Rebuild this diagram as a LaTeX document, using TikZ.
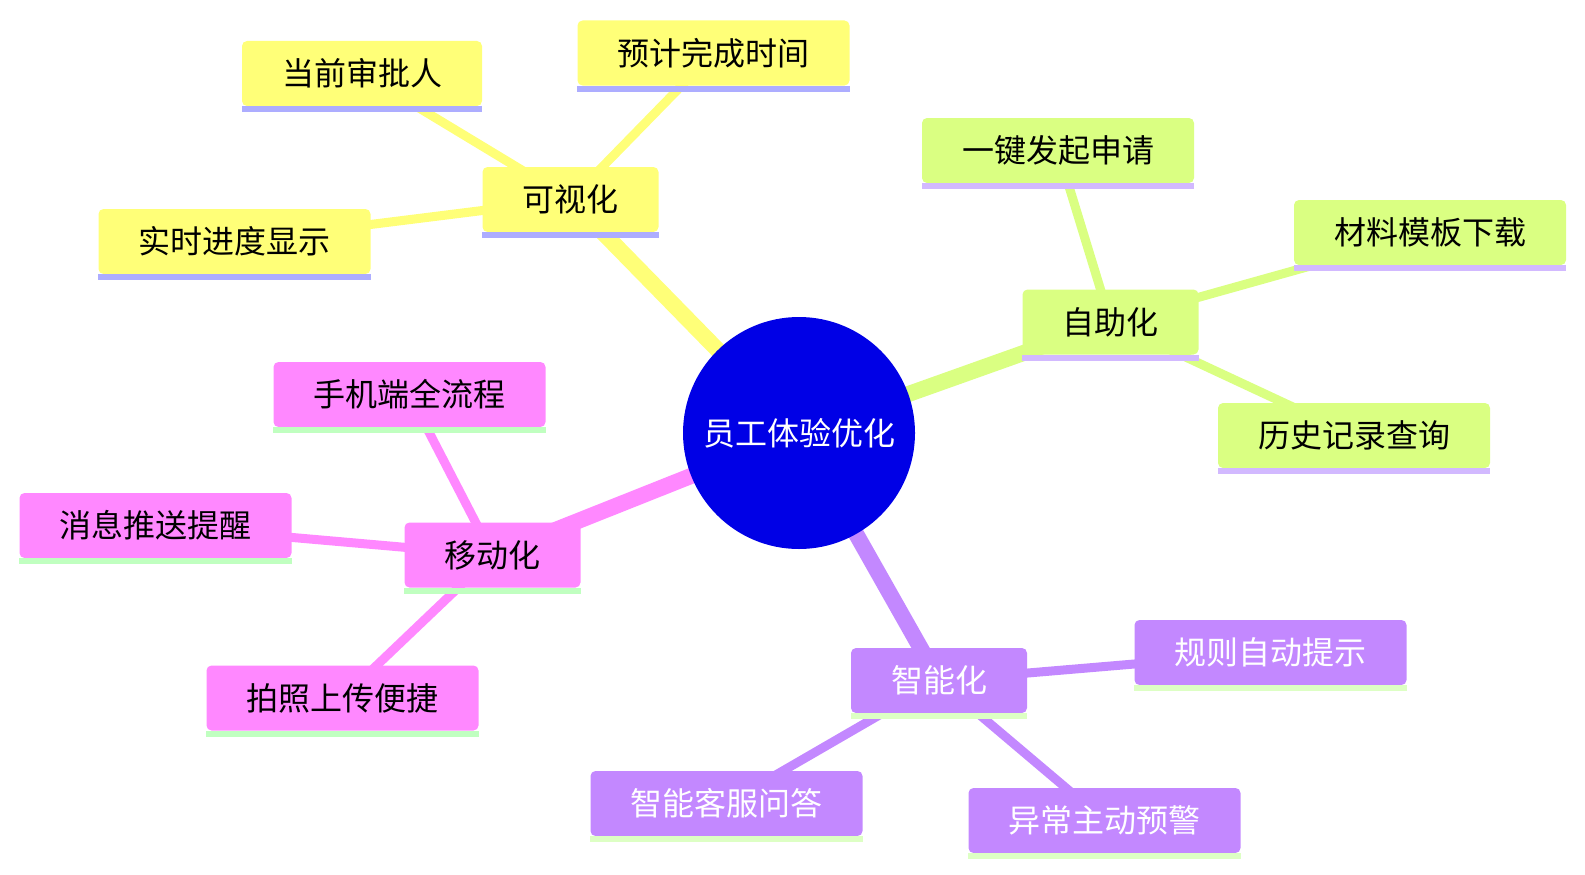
\documentclass[tikz,border=0pt]{standalone}
\usepackage{fontspec}
\usepackage{xcolor}
\usetikzlibrary{backgrounds}
\newfontfamily\cjk{Noto Sans CJK SC}
\definecolor{rootblue}{HTML}{0000E6}
\definecolor{visfill}{HTML}{FFFF78}
\definecolor{visline}{HTML}{ADADFF}
\definecolor{selffill}{HTML}{DAFF82}
\definecolor{selfline}{HTML}{D2B9FF}
\definecolor{mobfill}{HTML}{FF88FF}
\definecolor{mobline}{HTML}{C0FFC0}
\definecolor{aifill}{HTML}{C388FF}
\definecolor{ailine}{HTML}{DDFFC4}

\begin{document}
\begin{tikzpicture}[
x=1pt, y=-1pt,
rootnode/.style={circle, fill=rootblue, minimum size=232pt, inner sep=0pt, text=white, font=\cjk\fontsize{32}{32}\selectfont},
box/.style={rounded corners=5pt, minimum height=65pt, inner xsep=40pt, inner ysep=0pt, font=\cjk\fontsize{32}{32}\selectfont},
trunk/.style={line width=16pt},
twig/.style={line width=9pt}
]
\useasboundingbox (0,0) rectangle (1585,875);
\node[rootnode] (root) at (799,433) {员工体验优化};
% 可视化
\node[box, fill=visfill] (vis) at (570.5,199.5) {可视化};
\node[box, fill=visfill] (visA) at (362,73.5) {当前审批人};
\node[box, fill=visfill] (visB) at (713.5,53) {预计完成时间};
\node[box, fill=visfill] (visC) at (234.5,241.5) {实时进度显示};
% 自助化
\node[box, fill=selffill] (self) at (1110.5,322) {自助化};
\node[box, fill=selffill] (selfA) at (1058,150.5) {一键发起申请};
\node[box, fill=selffill] (selfB) at (1430,232.5) {材料模板下载};
\node[box, fill=selffill] (selfC) at (1354,435.5) {历史记录查询};
% 移动化
\node[box, fill=mobfill] (mob) at (492.5,555) {移动化};
\node[box, fill=mobfill] (mobA) at (409.5,394.5) {手机端全流程};
\node[box, fill=mobfill] (mobB) at (155.5,525.5) {消息推送提醒};
\node[box, fill=mobfill] (mobC) at (342.5,698) {拍照上传便捷};
% 智能化
\node[box, fill=aifill, text=white] (ai) at (939,680.5) {智能化};
\node[box, fill=aifill, text=white] (aiA) at (1270.5,652.5) {规则自动提示};
\node[box, fill=aifill, text=white] (aiB) at (1104.5,820.5) {异常主动预警};
\node[box, fill=aifill, text=white] (aiC) at (726.5,803.5) {智能客服问答};
% underlines
\foreach \n/\c in {vis/visline, visA/visline, visB/visline, visC/visline,
  self/selfline, selfA/selfline, selfB/selfline, selfC/selfline,
  mob/mobline, mobA/mobline, mobB/mobline, mobC/mobline,
  ai/ailine, aiA/ailine, aiB/ailine, aiC/ailine}
  \fill[\c] (\n.south west) rectangle ([yshift=-6pt]\n.south east);
\begin{scope}[on background layer]
\draw[trunk, visfill] (root.center) -- (vis.center);
\draw[trunk, selffill] (root.center) -- (self.center);
\draw[trunk, mobfill] (root.center) -- (mob.center);
\draw[trunk, aifill] (root.center) -- (ai.center);
\foreach \p/\k/\c in {vis/visA/visfill, vis/visB/visfill, vis/visC/visfill,
  self/selfA/selffill, self/selfB/selffill, self/selfC/selffill,
  mob/mobA/mobfill, mob/mobB/mobfill, mob/mobC/mobfill,
  ai/aiA/aifill, ai/aiB/aifill, ai/aiC/aifill}
  \draw[twig, \c] (\p.center) -- (\k.center);
\end{scope}
\end{tikzpicture}
\end{document}
